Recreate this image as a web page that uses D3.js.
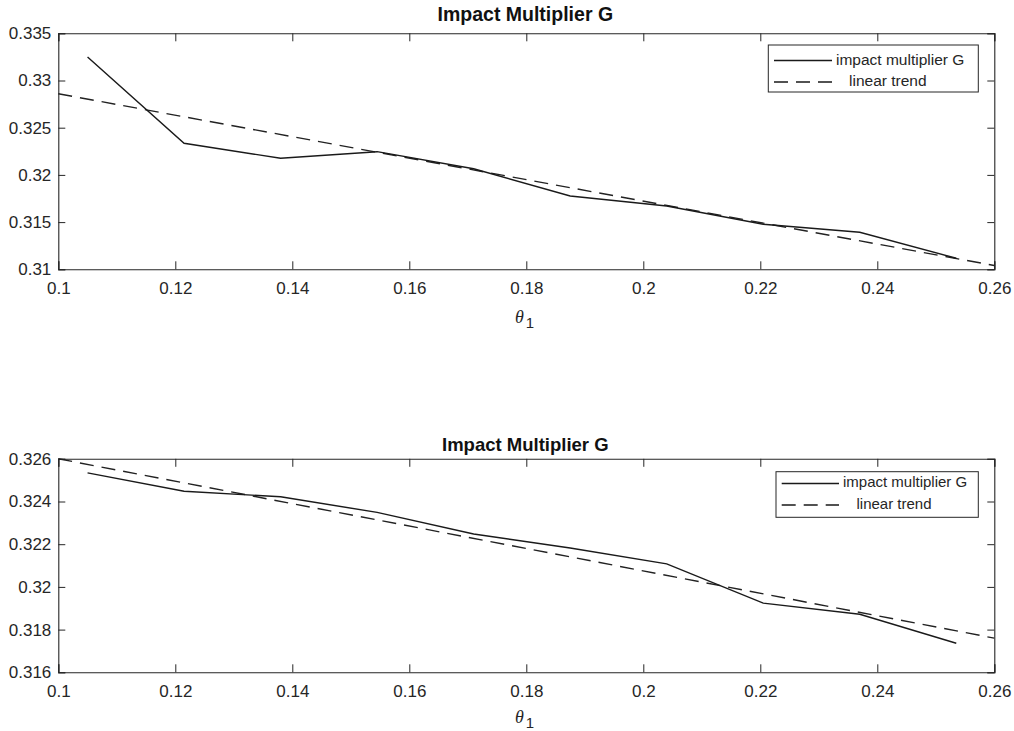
<!DOCTYPE html>
<html>
<head>
<meta charset="utf-8">
<title>Impact Multiplier G</title>
<script src="https://cdn.jsdelivr.net/npm/d3@7"></script>
<style>
  body { margin: 0; background: #fff; }
  svg { display: block; font-family: "Liberation Sans", Arial, sans-serif; }
</style>
</head>
<body>
<div id="viz"></div>
<script>

// data
var theta = [0.105, 0.1215, 0.138, 0.1545, 0.171, 0.1875, 0.204, 0.2205, 0.237, 0.2535];
var multTop = [0.3325, 0.32335, 0.32176, 0.32246, 0.32065, 0.31777, 0.3167, 0.31477, 0.31392, 0.31117];
var multBottom = [0.32534, 0.32448, 0.32422, 0.32349, 0.32248, 0.32182, 0.32108, 0.31924, 0.31872, 0.31736];
var trendX = [0.1, 0.26];
var trendTop = [0.3286, 0.3104];
var trendBottom = [0.3260, 0.3176];

var xTicks = [0.1, 0.12, 0.14, 0.16, 0.18, 0.2, 0.22, 0.24, 0.26];
var yTicksTop = [0.31, 0.315, 0.32, 0.325, 0.33, 0.335];
var yTicksBottom = [0.316, 0.318, 0.32, 0.322, 0.324, 0.326];

var titleText = "Impact Multiplier G";
var legendLabels = ["impact multiplier G", "linear trend"];

var W = 1014, H = 731;
var ink = "#262626";
var dash = "14,8";

var svg = d3.select("#viz").append("svg")
  .attr("width", W)
  .attr("height", H);

function fmt(v) { return String(+v.toFixed(4)); }

function drawPanel(p) {
  var x = d3.scaleLinear().domain([0.1, 0.26]).range([p.left, p.right]);
  var y = d3.scaleLinear().domain(d3.extent(p.yTicks)).range([p.bottom, p.top]);
  var g = svg.append("g");

  // axes, ticks pointing inward like matlab
  var ax = [
    d3.axisBottom(x).tickValues(xTicks).tickFormat(fmt).tickSize(-8).tickPadding(13),
    d3.axisTop(x).tickValues(xTicks).tickFormat("").tickSize(-8),
    d3.axisLeft(y).tickValues(p.yTicks).tickFormat(fmt).tickSize(-7).tickPadding(7),
    d3.axisRight(y).tickValues(p.yTicks).tickFormat("").tickSize(-7)
  ];
  var pos = ["translate(0," + p.bottom + ")", "translate(0," + p.top + ")",
             "translate(" + p.left + ",0)", "translate(" + p.right + ",0)"];
  ax.forEach(function(a, i) {
    var ga = g.append("g").attr("transform", pos[i]).call(a);
    ga.select(".domain").attr("stroke", ink).attr("stroke-width", 1.1);
    ga.selectAll(".tick line").attr("stroke", ink);
    ga.selectAll("text").attr("fill", ink).attr("font-size", p.tickFont)
      .attr("font-family", "Liberation Sans, Arial, sans-serif");
  });

  // title
  g.append("text")
    .attr("x", (p.left + p.right) / 2 - 1)
    .attr("y", p.titleY)
    .attr("text-anchor", "middle")
    .attr("dominant-baseline", "middle")
    .attr("font-weight", "bold")
    .attr("font-size", p.titleFont)
    .attr("fill", "#111")
    .text(titleText);

  // x label theta_1
  var xl = g.append("text")
    .attr("x", 515)
    .attr("y", p.bottom + p.labelDy)
    .attr("fill", ink)
    .attr("font-family", "Liberation Serif, serif");
  xl.append("tspan").attr("font-style", "italic").attr("font-size", 18).text("θ");
  xl.append("tspan").attr("dx", 2).attr("dy", 5).attr("font-size", 15)
    .attr("font-family", "Liberation Sans, Arial, sans-serif").text("1");

  var line = d3.line()
    .x(function(d) { return x(d[0]); })
    .y(function(d) { return y(d[1]); });

  g.append("path")
    .datum(d3.zip(trendX, p.trend))
    .attr("fill", "none")
    .attr("stroke", "#222")
    .attr("stroke-width", 1.4)
    .attr("stroke-dasharray", dash)
    .attr("d", line);

  g.append("path")
    .datum(d3.zip(theta, p.values))
    .attr("fill", "none")
    .attr("stroke", "#1a1a1a")
    .attr("stroke-width", 1.4)
    .attr("d", line);

  // legend
  var L = p.legend;
  g.append("rect")
    .attr("x", L.x0).attr("y", L.y0)
    .attr("width", L.x1 - L.x0).attr("height", L.y1 - L.y0)
    .attr("fill", "#fff").attr("stroke", ink).attr("stroke-width", 1);
  [0, 1].forEach(function(i) {
    g.append("line")
      .attr("x1", L.s0).attr("x2", L.s1)
      .attr("y1", L.rows[i]).attr("y2", L.rows[i])
      .attr("stroke", "#1a1a1a").attr("stroke-width", 1.4)
      .attr("stroke-dasharray", i == 1 ? dash : null);
    g.append("text")
      .attr("x", L.tx[i]).attr("y", L.rows[i])
      .attr("dominant-baseline", "middle")
      .attr("font-size", p.legendFont)
      .attr("fill", ink)
      .text(legendLabels[i]);
  });
}

drawPanel({
  left: 58.3, right: 994.3, top: 33.3, bottom: 269.3, labelDy: 54,
  yTicks: yTicksTop, values: multTop, trend: trendTop,
  titleY: 16, titleFont: 19.5, tickFont: 17, legendFont: 15.5,
  legend: { x0: 768.3, x1: 978.3, y0: 45, y1: 92, s0: 774, s1: 832,
            rows: [60.5, 82], tx: [836, 849] }
});

drawPanel({
  left: 58.3, right: 994.3, top: 458.8, bottom: 672.3, labelDy: 51,
  yTicks: yTicksBottom, values: multBottom, trend: trendBottom,
  titleY: 446, titleFont: 18.5, tickFont: 17, legendFont: 15,
  legend: { x0: 776, x1: 978.3, y0: 471.7, y1: 517.3, s0: 781.7, s1: 839,
            rows: [483.5, 505], tx: [843, 856.5] }
});

</script>
</body>
</html>
